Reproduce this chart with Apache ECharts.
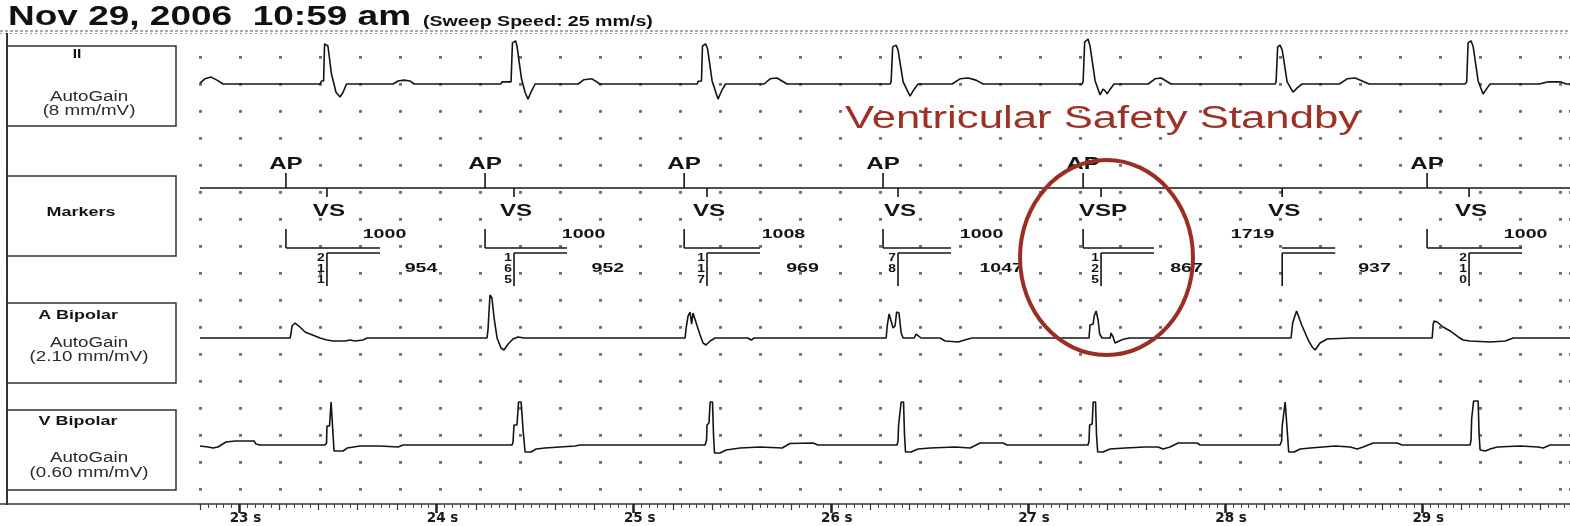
<!DOCTYPE html>
<html>
<head>
<meta charset="utf-8">
<script src="https://cdn.jsdelivr.net/npm/echarts@6.0.0/dist/echarts.min.js"></script>
<style>
html,body{margin:0;padding:0;background:#ffffff;}
#chart{width:1570px;height:526px;}
</style>
</head>
<body>
<div id="chart"></div>
<script>
// ================= DATA =================
const titleText = 'Nov 29, 2006  10:59 am';
const sweepText = '(Sweep Speed: 25 mm/s)';
const annotationText = 'Ventricular Safety Standby';
const channelNames = ['II', 'Markers', 'A Bipolar', 'V Bipolar'];
const channelGainText = ['(8 mm/mV)', '', '(2.10 mm/mV)', '(0.60 mm/mV)'];
const gainMmPerMv = [8, 2.10, 0.60];            // II, A Bipolar, V Bipolar
const timeTickSeconds = [23, 24, 25, 26, 27, 28, 29];

// [time s, mV]
const leadII = [[22.800,0.02],[22.825,0.12],[22.856,0.16],[22.886,0.09],[22.917,0],
[23.409,0],[23.416,0.07],[23.427,0.07],[23.432,0.93],[23.442,0.97],[23.449,0.88],[23.467,0.23],[23.490,-0.19],[23.510,-0.30],[23.526,-0.19],[23.543,0],
[23.779,0],[23.805,0.07],[23.835,0.09],[23.865,0.07],[23.886,0],
[24.327,0],[24.332,0.05],[24.378,0.05],[24.385,0.95],[24.401,1.00],[24.408,0.88],[24.431,0.12],[24.449,-0.19],[24.464,-0.35],[24.479,-0.19],[24.500,0],
[24.718,0],[24.748,0.10],[24.789,0.12],[24.829,0],
[25.322,0],[25.327,0.06],[25.344,0.07],[25.349,0.88],[25.365,0.93],[25.375,0.81],[25.398,0.07],[25.428,-0.35],[25.448,-0.14],[25.466,0],
[25.662,0],[25.692,0.12],[25.727,0.14],[25.778,0],
[26.301,0],[26.306,0.05],[26.314,0.86],[26.331,0.90],[26.341,0.79],[26.367,0.05],[26.402,-0.28],[26.423,-0.12],[26.443,0],
[26.615,0],[26.656,0.12],[26.697,0.14],[26.737,0.09],[26.773,0],
[27.275,0],[27.280,0.05],[27.288,0.97],[27.305,1.04],[27.315,0.88],[27.341,0.07],[27.366,-0.25],[27.381,-0.12],[27.392,-0.16],[27.402,-0.23],[27.417,-0.12],[27.437,0],
[27.610,0],[27.645,0.12],[27.676,0.14],[27.726,0],
[28.254,0],[28.259,0.05],[28.267,0.86],[28.279,0.90],[28.290,0.79],[28.315,0.05],[28.345,-0.19],[28.366,-0.09],[28.391,0],
[28.579,0],[28.620,0.12],[28.660,0.14],[28.731,0],
[29.218,0],[29.226,0.05],[29.233,0.95],[29.248,1.00],[29.259,0.86],[29.284,0.07],[29.309,-0.23],[29.330,-0.09],[29.345,0],
[29.594,0],[29.640,0.05],[29.700,0.05],[29.731,0],[29.750,0]];

const aBipolar = [[22.800,0],[23.257,0],[23.262,0.44],[23.267,1.06],[23.282,1.32],[23.307,0.97],[23.333,0.53],[23.358,0.35],[23.409,0],[23.444,-0.18],[23.475,-0.26],[23.536,-0.26],[23.561,-0.18],[23.586,-0.26],[23.627,-0.18],[23.647,0],
[24.256,0],[24.261,0.71],[24.271,3.79],[24.281,3.53],[24.292,1.76],[24.307,0],[24.327,-0.88],[24.342,-1.06],[24.363,-0.53],[24.388,-0.09],[24.413,0.09],[24.444,0],
[25.261,0],[25.266,0.88],[25.276,1.94],[25.286,2.29],[25.294,1.23],[25.301,2.20],[25.311,2.29],[25.322,1.06],[25.337,0.26],[25.352,-0.44],[25.367,-0.62],[25.388,-0.26],[25.413,0],[25.580,0],[25.596,-0.18],[25.611,0],
[26.281,0],[26.286,1.06],[26.296,2.12],[26.306,2.29],[26.316,0.88],[26.326,1.06],[26.334,2.29],[26.346,2.20],[26.357,0.44],[26.367,0],[26.423,0],[26.433,0.35],[26.443,0.18],[26.458,0],[26.554,0],[26.580,-0.26],[26.646,-0.35],[26.697,-0.09],[26.717,0],
[27.310,0],[27.315,1.15],[27.331,1.23],[27.336,1.94],[27.346,2.38],[27.356,1.59],[27.364,0.35],[27.376,0],[27.417,0],[27.422,0.44],[27.432,0.09],[27.442,-0.44],[27.463,-0.26],[27.488,-0.09],[27.518,0],
[28.335,0],[28.343,1.32],[28.351,1.76],[28.363,2.38],[28.389,1.15],[28.422,-0.18],[28.442,-0.79],[28.457,-1.06],[28.482,-0.44],[28.518,-0.09],[28.635,0],
[29.051,0],[29.056,1.23],[29.061,1.50],[29.076,1.41],[29.106,0.97],[29.142,0.62],[29.183,0.09],[29.208,-0.18],[29.243,-0.26],[29.345,-0.35],[29.421,-0.26],[29.462,0],[29.750,0]];

const vBipolar = [[22.800,-0.31],[22.841,-0.62],[22.866,-0.93],[22.891,-0.62],[22.932,0.93],[22.978,1.23],[23.074,1.23],[23.084,0.31],[23.104,0],
[23.434,0],[23.442,0.62],[23.444,5.86],[23.457,5.86],[23.465,13.27],[23.475,13.27],[23.480,-1.85],[23.526,-1.85],[23.546,-0.93],[23.612,-0.31],[23.713,-0.31],[23.805,-0.62],[23.830,0],
[24.383,0],[24.388,0.93],[24.393,6.17],[24.408,6.17],[24.416,13.27],[24.429,13.27],[24.439,4.63],[24.449,-2.16],[24.479,-2.16],[24.505,-1.23],[24.550,-0.93],[24.626,-0.62],[24.703,-0.31],[24.728,0],
[25.362,0],[25.370,1.54],[25.372,6.17],[25.382,6.79],[25.388,13.27],[25.400,13.27],[25.405,3.09],[25.410,-2.47],[25.438,-2.47],[25.469,-1.54],[25.540,-0.93],[25.641,-0.62],[25.753,-0.93],[25.793,0.46],[25.910,0.62],[25.935,0],
[26.336,0],[26.341,1.23],[26.344,6.17],[26.351,6.48],[26.357,13.27],[26.369,13.27],[26.374,3.09],[26.379,-2.16],[26.407,-2.16],[26.443,-1.23],[26.504,-0.93],[26.631,-0.62],[26.707,-0.93],[26.757,0.62],[26.874,0.62],[26.894,0],
[27.305,0],[27.310,1.23],[27.313,6.17],[27.326,6.48],[27.331,13.27],[27.343,13.27],[27.348,3.09],[27.354,-2.16],[27.381,-2.16],[27.417,-1.23],[27.493,-0.93],[27.594,-0.62],[27.660,-0.62],[27.686,-1.23],[27.721,-0.62],[27.762,0.62],[27.858,0.62],[27.874,0],
[28.279,0],[28.287,1.23],[28.290,5.86],[28.300,6.17],[28.305,13.27],[28.315,13.27],[28.317,3.09],[28.323,-2.16],[28.351,-2.16],[28.381,-1.23],[28.432,-0.93],[28.559,-0.31],[28.635,-0.62],[28.670,-1.23],[28.701,-0.62],[28.751,0.62],[28.873,0.62],[28.898,0],
[29.243,0],[29.248,1.54],[29.251,8.02],[29.259,8.02],[29.261,13.58],[29.284,13.58],[29.289,3.09],[29.294,-1.54],[29.320,-1.85],[29.345,-1.23],[29.381,-0.62],[29.497,-0.31],[29.588,-0.62],[29.614,-0.93],[29.649,0],[29.750,0]];

// Marker channel (one entry per ventricular event)
const apTimes     = [23.236, 24.246, 25.256, 26.265, 27.280, null, 29.025];
const vsTimes     = [23.444, 24.393, 25.372, 26.341, 27.371, 28.290, 29.238];
const vsLabels    = ['VS', 'VS', 'VS', 'VS', 'VSP', 'VS', 'VS'];
const aaIntervals = [1000, 1000, 1008, 1000, 1719, null, 1000];
const vvIntervals = [954, 952, 969, 1047, 867, 937, null];
const avDelays    = ['211', '165', '117', '78', '125', null, '210'];

// ================= LAYOUT / STYLE =================
const T_MIN = 22.8, T_MAX = 29.75;
const PLOT_LEFT = 200;
const PX_PER_MM = 5.4;
const LEAD_HALF = 55;
const leadBaselines = [84, 338, 445];
const INK = '#141414';
const FAM = '"Liberation Sans", Arial, sans-serif';
const RED = '#9c3226';
const SX = 1.38;

const MK = {line:188, apTop:173, apText:164, vsBottom:197, vsText:211, lTop:229,
            br1:248, br2:253, barBottom:286, aaText:234, vvText:268,
            digitY:258, digitStep:11, bracketLen:53};
const MARK_FONT = 'bold 17px ' + FAM;
const NUM_FONT = 'bold 13.5px ' + FAM;
const DIGIT_FONT = 'bold 11.5px ' + FAM;

function seg(x1, y1, x2, y2, w) {
  return {type:'line', shape:{x1, y1, x2, y2}, style:{stroke:INK, lineWidth:w || 1.6}};
}
function txt(text, x, y, font, sx, align, fill) {
  return {type:'text', x, y, scaleX: sx || 1,
          style:{text, x:0, y:0, font, fill: fill || INK, align: align || 'center', verticalAlign:'middle'}};
}

function markerItem(params, api) {
  const i = params.dataIndex;
  const xOf = t => api.coord([t, 0.5])[0];
  const vx = xOf(vsTimes[i]);
  const end = vx + MK.bracketLen;
  const kids = [];
  kids.push(seg(vx, MK.line, vx, MK.vsBottom));
  kids.push(txt(vsLabels[i], vx + 2, MK.vsText, MARK_FONT, 1.42));
  kids.push(seg(vx, MK.br2, vx, MK.barBottom), seg(vx, MK.br2, end, MK.br2));
  if (apTimes[i] != null) {
    const ax = xOf(apTimes[i]);
    kids.push(seg(ax, MK.line, ax, MK.apTop), txt('AP', ax, MK.apText, MARK_FONT, 1.42));
    kids.push(seg(ax, MK.lTop, ax, MK.br1), seg(ax, MK.br1, end, MK.br1));
    kids.push(txt(String(aaIntervals[i]), xOf(apTimes[i] + aaIntervals[i] / 2000), MK.aaText, NUM_FONT, 1.45));
  } else {
    kids.push(seg(vx, MK.br1, end, MK.br1));
  }
  if (vvIntervals[i] != null) {
    kids.push(txt(String(vvIntervals[i]), xOf(vsTimes[i] + vvIntervals[i] / 2000), MK.vvText, NUM_FONT, 1.45));
  }
  if (avDelays[i]) {
    avDelays[i].split('').forEach((d, k) => kids.push(txt(d, vx - 6, MK.digitY + k * MK.digitStep, DIGIT_FONT, 1.2)));
  }
  return {type:'group', children:kids};
}

// left panel graphics
const boxes = [[46, 80], [176, 80], [303, 80], [410, 80]];
const panel = [];
boxes.forEach(b => panel.push({type:'rect', shape:{x:7, y:b[0], width:169, height:b[1]},
  style:{fill:null, stroke:'#333', lineWidth:1.5}}));
panel.push(txt(channelNames[0], 77, 55, 'bold 12px ' + FAM, 1.3));
panel.push(txt('AutoGain', 89, 97, '14px ' + FAM, 1.34, 'center', '#2a2a2a'));
panel.push(txt(channelGainText[0], 89, 111, '14px ' + FAM, 1.34, 'center', '#2a2a2a'));
panel.push(txt(channelNames[1], 81, 212, 'bold 13px ' + FAM, SX));
panel.push(txt(channelNames[2], 78, 315, 'bold 13px ' + FAM, SX));
panel.push(txt('AutoGain', 89, 343, '14px ' + FAM, 1.34, 'center', '#2a2a2a'));
panel.push(txt(channelGainText[2], 89, 357, '14px ' + FAM, 1.34, 'center', '#2a2a2a'));
panel.push(txt(channelNames[3], 78, 421, 'bold 13px ' + FAM, SX));
panel.push(txt('AutoGain', 89, 458, '14px ' + FAM, 1.34, 'center', '#2a2a2a'));
panel.push(txt(channelGainText[3], 89, 473, '14px ' + FAM, 1.34, 'center', '#2a2a2a'));

const leadGrid = (i) => ({left:PLOT_LEFT, right:0, top:leadBaselines[i] - LEAD_HALF, height:LEAD_HALF * 2});
const leadY = (i, gi) => {
  const r = LEAD_HALF / (gainMmPerMv[i] * PX_PER_MM);
  return {gridIndex:gi, type:'value', min:-r, max:r, show:false};
};
const hiddenX = (gi) => ({gridIndex:gi, type:'value', min:T_MIN, max:T_MAX, show:false});
const leadSeries = (data, xi, yi) => ({type:'line', data, xAxisIndex:xi, yAxisIndex:yi,
  symbol:'none', silent:true, lineStyle:{color:INK, width:1.6}, clip:false});

const chart = echarts.init(document.getElementById('chart'), null, {renderer:'canvas'});
chart.setOption({
  animation:false,
  backgroundColor:'#ffffff',
  grid:[
    {left:PLOT_LEFT, right:0, top:56, height:448},
    leadGrid(0), leadGrid(1), leadGrid(2)
  ],
  xAxis:[
    {gridIndex:0, type:'value', min:0, max:34.25, interval:1, position:'top',
     axisLine:{show:false}, axisTick:{show:false}, axisLabel:{show:false},
     splitLine:{show:true, lineStyle:{color:'#6e6e6e', width:3, type:[2.8, 24.2]}}},
    {gridIndex:0, type:'value', min:T_MIN, max:T_MAX, interval:0.2, position:'bottom',
     axisLine:{show:true, onZero:false, lineStyle:{color:'#333', width:1.5}},
     axisTick:{show:true, length:6, lineStyle:{color:'#333', width:1.2}},
     minorTick:{show:true, splitNumber:5, length:4, lineStyle:{color:'#444', width:1}},
     axisLabel:{show:false}, splitLine:{show:false}},
    {gridIndex:0, type:'value', min:T_MIN, max:T_MAX, position:'bottom',
     axisLine:{show:false, onZero:false},
     axisTick:{show:true, customValues:timeTickSeconds, length:9, lineStyle:{color:'#222', width:2.5}},
     axisLabel:{show:true, customValues:timeTickSeconds, formatter:v => v + ' s',
       fontFamily:'"DejaVu Sans", sans-serif', fontWeight:'bold', fontSize:13.5, color:'#1a1a1a',
       margin:7, padding:[0, 0, 0, 12]},
     splitLine:{show:false}},
    hiddenX(1), hiddenX(2), hiddenX(3)
  ],
  yAxis:[
    {gridIndex:0, type:'value', min:0, max:1, show:false},
    leadY(0, 1), leadY(1, 2), leadY(2, 3)
  ],
  series:[
    leadSeries(leadII, 3, 1),
    leadSeries(aBipolar, 4, 2),
    leadSeries(vBipolar, 5, 3),
    {type:'custom', xAxisIndex:1, yAxisIndex:0, clip:false, silent:true,
     data: vsTimes.map(t => [t, 0.5]), renderItem: markerItem}
  ],
  graphic:[
    txt(titleText, 8, 17.5, 'bold 27px ' + FAM, 1.37, 'left', '#111'),
    txt(sweepText, 423, 22, 'bold 14px ' + FAM, 1.4, 'left', '#111'),
    {type:'line', shape:{x1:0, y1:31, x2:1570, y2:31}, style:{stroke:'#555', lineWidth:1.2, lineDash:[3, 2]}},
    {type:'line', shape:{x1:0, y1:33.5, x2:1570, y2:33.5}, style:{stroke:'#999', lineWidth:1, lineDash:[2, 3]}},
    {type:'line', shape:{x1:7, y1:33, x2:7, y2:505}, style:{stroke:'#333', lineWidth:2}},
    {type:'line', shape:{x1:0, y1:504, x2:200, y2:504}, style:{stroke:'#333', lineWidth:1.5}},
    {type:'line', shape:{x1:PLOT_LEFT, y1:MK.line, x2:1570, y2:MK.line}, style:{stroke:INK, lineWidth:1.5}},
    ...panel,
    Object.assign(txt(annotationText, 845, 119, '31px ' + FAM, 1.41, 'left', RED), {z:100}),
    {type:'ellipse', shape:{cx:1106.5, cy:257.5, rx:86.5, ry:97.5}, z:100,
     style:{fill:null, stroke:'#9a2e22', lineWidth:4}}
  ]
});
</script>
</body>
</html>
